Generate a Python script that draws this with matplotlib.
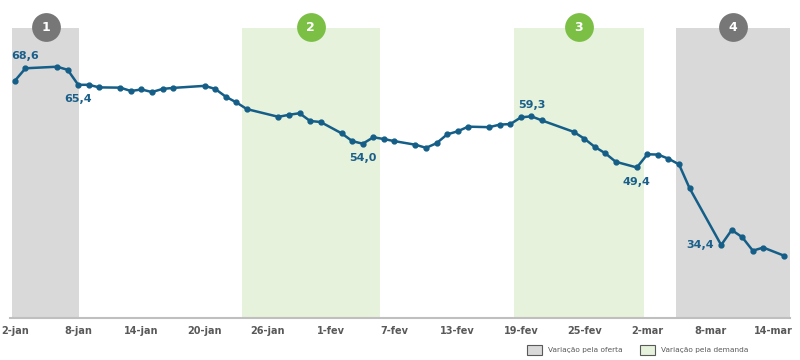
import numpy as np
import pandas as pd
import matplotlib.pyplot as plt
from matplotlib.patches import Patch
from matplotlib.transforms import blended_transform_factory

# preço (US$/barril)
datas = ['2020-01-02', '2020-01-03', '2020-01-06', '2020-01-07', '2020-01-08', '2020-01-09',
         '2020-01-10', '2020-01-12', '2020-01-13', '2020-01-14', '2020-01-15', '2020-01-16',
         '2020-01-17', '2020-01-20', '2020-01-21', '2020-01-22', '2020-01-23', '2020-01-24',
         '2020-01-27', '2020-01-28', '2020-01-29', '2020-01-30', '2020-01-31', '2020-02-02',
         '2020-02-03', '2020-02-04', '2020-02-05', '2020-02-06', '2020-02-07', '2020-02-09',
         '2020-02-10', '2020-02-11', '2020-02-12', '2020-02-13', '2020-02-14', '2020-02-16',
         '2020-02-17', '2020-02-18', '2020-02-19', '2020-02-20', '2020-02-21', '2020-02-24',
         '2020-02-25', '2020-02-26', '2020-02-27', '2020-02-28', '2020-03-01', '2020-03-02',
         '2020-03-03', '2020-03-04', '2020-03-05', '2020-03-06', '2020-03-09', '2020-03-10',
         '2020-03-11', '2020-03-12', '2020-03-13', '2020-03-15']
precos = [66.2, 68.6, 68.9, 68.3, 65.4, 65.4,
          64.9, 64.85, 64.2, 64.5, 64.0, 64.6,
          64.8, 65.2, 64.6, 63.1, 62.0, 60.7,
          59.2, 59.6, 59.9, 58.4, 58.2, 56.0,
          54.5, 54.0, 55.25, 54.9, 54.5, 53.8,
          53.2, 54.1, 55.8, 56.4, 57.3, 57.2,
          57.7, 57.8, 59.1, 59.3, 58.5, 56.3,
          55.0, 53.4, 52.15, 50.5, 49.4, 51.95,
          51.9, 51.1, 50.0, 45.4, 34.4, 37.3,
          35.9, 33.3, 33.9, 32.3]

# rótulos de valor: data e posição (acima, abaixo, esquerda)
rotulos_datas = ['2020-01-03', '2020-01-08', '2020-02-04', '2020-02-20', '2020-03-01', '2020-03-09']
rotulos_pos = ['acima', 'abaixo', 'abaixo', 'acima', 'abaixo', 'esquerda']

# períodos destacados (dias desde 2-jan), tipo e número
periodos = [(-0.3, 6.1), (21.5, 34.6), (47.3, 59.7), (62.7, 73.6)]
periodos_tipo = ['oferta', 'demanda', 'demanda', 'oferta']
periodos_num = ['1', '2', '3', '4']

ticks_dias = [0, 6, 12, 18, 24, 30, 36, 42, 48, 54, 60, 66, 72]
ticks_rotulos = ['2-jan', '8-jan', '14-jan', '20-jan', '26-jan', '1-fev', '7-fev',
                 '13-fev', '19-fev', '25-fev', '2-mar', '8-mar', '14-mar']

inicio = pd.Timestamp('2020-01-02')
dias = (pd.to_datetime(datas) - inicio).days.values
serie = pd.Series(precos, index=datas)

cor_linha = '#145e87'
cor_fundo = {'oferta': '#d9d9d9', 'demanda': '#e6f2dc'}
cor_circulo = {'oferta': '#777777', 'demanda': '#7bbf45'}

fig = plt.figure(figsize=(8, 3.6), dpi=100)
ax = fig.add_axes([0.0125, 0.1167, 0.975, 0.8056])

for (a, b), tipo, num in zip(periodos, periodos_tipo, periodos_num):
    ax.axvspan(a, b, color=cor_fundo[tipo], lw=0, zorder=0)
    trans = blended_transform_factory(ax.transData, ax.transAxes)
    ax.scatter([(a + b) / 2], [1.003], s=430, color=cor_circulo[tipo], transform=trans,
               clip_on=False, zorder=5, lw=0)
    ax.text((a + b) / 2, 1.003, num, transform=trans, color='white', fontsize=9,
            fontweight='bold', ha='center', va='center', zorder=6)

ax.plot(dias, precos, color=cor_linha, lw=1.8, marker='o', markersize=3.5, zorder=3)

offsets = {'acima': (0, 8.5, 'center', 'center'),
           'abaixo': (0, -10.5, 'center', 'center'),
           'esquerda': (-5, 0, 'right', 'center')}
for d, pos in zip(rotulos_datas, rotulos_pos):
    v = serie[d]
    x = (pd.Timestamp(d) - inicio).days
    dx, dy, ha, va = offsets[pos]
    ax.annotate(f'{v:.1f}'.replace('.', ','), (x, v), xytext=(dx, dy),
                textcoords='offset points', ha=ha, va=va, fontsize=8,
                fontweight='bold', color='#1a5f8a', zorder=4)

ax.set_xlim(-0.47, 73.53)
ax.set_ylim(20.27, 76.4)
ax.set_yticks([])
ax.set_xticks(ticks_dias)
ax.set_xticklabels(ticks_rotulos, fontsize=7, fontweight='bold', color='#595959')
ax.tick_params(axis='x', length=0, pad=6)
for s in ['left', 'right', 'top']:
    ax.spines[s].set_visible(False)
ax.spines['bottom'].set_color('#bfbfbf')
ax.spines['bottom'].set_linewidth(1.5)

handles = [Patch(facecolor=cor_fundo['oferta'], edgecolor='#595959', lw=0.8,
                 label='Variação pela oferta'),
           Patch(facecolor=cor_fundo['demanda'], edgecolor='#595959', lw=0.8,
                 label='Variação pela demanda')]
fig.legend(handles=handles, loc='center left', bbox_to_anchor=(527 / 800, 1 - 350 / 360),
           ncol=2, frameon=False, fontsize=5.3, labelcolor='#595959',
           handlelength=2.0, handleheight=1.9, handletextpad=0.9, columnspacing=2.3,
           borderpad=0, borderaxespad=0)

fig.savefig('out.png', dpi=100)
